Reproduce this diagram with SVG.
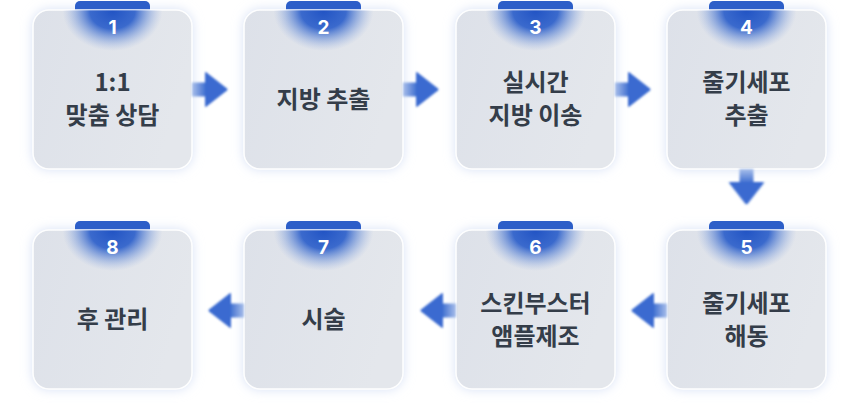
<svg xmlns="http://www.w3.org/2000/svg" width="860" height="405" viewBox="0 0 860 405">
<style>
.shadow{fill:#d2def5;filter:url(#blur6)}
.box{fill:url(#boxg);stroke:#ffffff;stroke-opacity:0.85;stroke-width:1.5}
.tab{fill:#2c5ec8}
.num{font-family:Inter,"Liberation Sans",sans-serif;font-weight:700;font-size:19px;fill:#ffffff;text-anchor:middle}
.lbl{font-family:"Noto Sans CJK KR","Noto Sans",sans-serif;font-weight:700;font-size:24px;fill:#343d49;text-anchor:middle}
.shaft{fill:url(#shaftg)}
.head{fill:#3b6bd0}
.glow{fill:url(#glow)}
.rim{fill:none;stroke:#ffffff;stroke-opacity:0.6;stroke-width:1.2}
</style>
<defs>
<filter id="blur6" x="-20%" y="-20%" width="140%" height="140%"><feGaussianBlur stdDeviation="6"/></filter>
<filter id="soft" x="-30%" y="-30%" width="160%" height="160%"><feGaussianBlur stdDeviation="0.8"/></filter>
<linearGradient id="boxg" x1="0" y1="0" x2="1" y2="0.3">
<stop offset="0" stop-color="#dde1e9"/>
<stop offset="1" stop-color="#e4e7ec"/>
</linearGradient>
<radialGradient id="glow">
<stop offset="0" stop-color="#2254c4" stop-opacity="1"/>
<stop offset="0.45" stop-color="#2c5fca" stop-opacity="0.92"/>
<stop offset="0.75" stop-color="#5a84d6" stop-opacity="0.4"/>
<stop offset="1" stop-color="#8eaae2" stop-opacity="0"/>
</radialGradient>
<linearGradient id="shaftg" gradientUnits="userSpaceOnUse" x1="0" y1="0" x2="14" y2="0">
<stop offset="0" stop-color="#a8bfea"/>
<stop offset="1" stop-color="#3d6dd0"/>
</linearGradient>
<g id="arrow">
<rect class="shaft" x="0" y="-7" width="14" height="14"/>
<path class="head" d="M13,-16.5 Q13,-18 14.5,-17 L35,-1 Q36,0 35,1 L14.5,17 Q13,18 13,16.5 Z"/>
</g>
<clipPath id="c1"><rect x="33" y="10" width="159" height="159" rx="16"/></clipPath>
<clipPath id="c2"><rect x="244" y="10" width="159" height="159" rx="16"/></clipPath>
<clipPath id="c3"><rect x="456" y="10" width="159" height="159" rx="16"/></clipPath>
<clipPath id="c4"><rect x="667" y="10" width="159" height="159" rx="16"/></clipPath>
<clipPath id="c5"><rect x="667" y="230" width="159" height="159" rx="16"/></clipPath>
<clipPath id="c6"><rect x="456" y="230" width="159" height="159" rx="16"/></clipPath>
<clipPath id="c7"><rect x="244" y="230" width="159" height="159" rx="16"/></clipPath>
<clipPath id="c8"><rect x="33" y="230" width="159" height="159" rx="16"/></clipPath>
</defs>
<rect width="860" height="405" fill="#ffffff"/>

<g id="node1">
<rect class="shadow" x="33" y="10" width="159" height="159" rx="16"/>
<rect class="tab" x="75" y="1" width="75" height="16" rx="5"/>
<rect class="box" x="33" y="10" width="159" height="159" rx="16"/>
<ellipse class="glow" cx="112.5" cy="11" rx="50" ry="40" clip-path="url(#c1)"/>
<rect class="rim" x="33" y="10" width="159" height="159" rx="16"/>
<text class="num" x="112.5" y="34">1</text>
<text class="lbl" x="112.5" y="91">1:1</text>
<text class="lbl" x="112.5" y="124">맞춤 상담</text>
</g>

<g id="node2">
<rect class="shadow" x="244" y="10" width="159" height="159" rx="16"/>
<rect class="tab" x="286" y="1" width="75" height="16" rx="5"/>
<rect class="box" x="244" y="10" width="159" height="159" rx="16"/>
<ellipse class="glow" cx="323.5" cy="11" rx="50" ry="40" clip-path="url(#c2)"/>
<rect class="rim" x="244" y="10" width="159" height="159" rx="16"/>
<text class="num" x="323.5" y="34">2</text>
<text class="lbl" x="323.5" y="108">지방 추출</text>
</g>

<g id="node3">
<rect class="shadow" x="456" y="10" width="159" height="159" rx="16"/>
<rect class="tab" x="498" y="1" width="75" height="16" rx="5"/>
<rect class="box" x="456" y="10" width="159" height="159" rx="16"/>
<ellipse class="glow" cx="535.5" cy="11" rx="50" ry="40" clip-path="url(#c3)"/>
<rect class="rim" x="456" y="10" width="159" height="159" rx="16"/>
<text class="num" x="535.5" y="34">3</text>
<text class="lbl" x="535.5" y="91">실시간</text>
<text class="lbl" x="535.5" y="124">지방 이송</text>
</g>

<g id="node4">
<rect class="shadow" x="667" y="10" width="159" height="159" rx="16"/>
<rect class="tab" x="709" y="1" width="75" height="16" rx="5"/>
<rect class="box" x="667" y="10" width="159" height="159" rx="16"/>
<ellipse class="glow" cx="746.5" cy="11" rx="50" ry="40" clip-path="url(#c4)"/>
<rect class="rim" x="667" y="10" width="159" height="159" rx="16"/>
<text class="num" x="746.5" y="34">4</text>
<text class="lbl" x="746.5" y="91">줄기세포</text>
<text class="lbl" x="746.5" y="124">추출</text>
</g>

<g id="node5">
<rect class="shadow" x="667" y="230" width="159" height="159" rx="16"/>
<rect class="tab" x="709" y="221" width="75" height="16" rx="5"/>
<rect class="box" x="667" y="230" width="159" height="159" rx="16"/>
<ellipse class="glow" cx="746.5" cy="231" rx="50" ry="40" clip-path="url(#c5)"/>
<rect class="rim" x="667" y="230" width="159" height="159" rx="16"/>
<text class="num" x="746.5" y="254">5</text>
<text class="lbl" x="746.5" y="312">줄기세포</text>
<text class="lbl" x="746.5" y="345">해동</text>
</g>

<g id="node6">
<rect class="shadow" x="456" y="230" width="159" height="159" rx="16"/>
<rect class="tab" x="498" y="221" width="75" height="16" rx="5"/>
<rect class="box" x="456" y="230" width="159" height="159" rx="16"/>
<ellipse class="glow" cx="535.5" cy="231" rx="50" ry="40" clip-path="url(#c6)"/>
<rect class="rim" x="456" y="230" width="159" height="159" rx="16"/>
<text class="num" x="535.5" y="254">6</text>
<text class="lbl" x="535.5" y="312">스킨부스터</text>
<text class="lbl" x="535.5" y="345">앰플제조</text>
</g>

<g id="node7">
<rect class="shadow" x="244" y="230" width="159" height="159" rx="16"/>
<rect class="tab" x="286" y="221" width="75" height="16" rx="5"/>
<rect class="box" x="244" y="230" width="159" height="159" rx="16"/>
<ellipse class="glow" cx="323.5" cy="231" rx="50" ry="40" clip-path="url(#c7)"/>
<rect class="rim" x="244" y="230" width="159" height="159" rx="16"/>
<text class="num" x="323.5" y="254">7</text>
<text class="lbl" x="323.5" y="328">시술</text>
</g>

<g id="node8">
<rect class="shadow" x="33" y="230" width="159" height="159" rx="16"/>
<rect class="tab" x="75" y="221" width="75" height="16" rx="5"/>
<rect class="box" x="33" y="230" width="159" height="159" rx="16"/>
<ellipse class="glow" cx="112.5" cy="231" rx="50" ry="40" clip-path="url(#c8)"/>
<rect class="rim" x="33" y="230" width="159" height="159" rx="16"/>
<text class="num" x="112.5" y="254">8</text>
<text class="lbl" x="112.5" y="328">후 관리</text>
</g>

<g id="connectors" filter="url(#soft)">
<use href="#arrow" transform="translate(192,89.5)"/>
<use href="#arrow" transform="translate(403,89.5)"/>
<use href="#arrow" transform="translate(615,89.5)"/>
<use href="#arrow" transform="translate(746.5,169) rotate(90)"/>
<use href="#arrow" transform="translate(667,310.5) rotate(180)"/>
<use href="#arrow" transform="translate(456,310.5) rotate(180)"/>
<use href="#arrow" transform="translate(244,310.5) rotate(180)"/>
</g>
</svg>
